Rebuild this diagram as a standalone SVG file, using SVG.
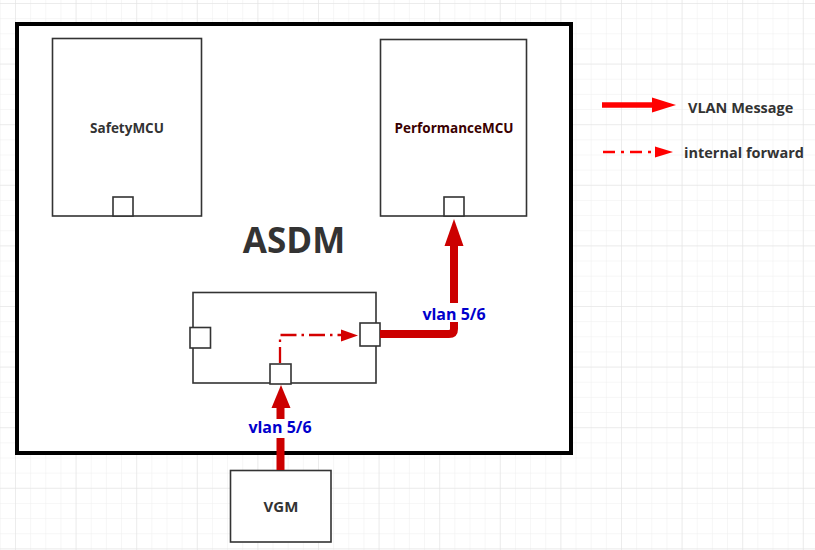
<svg xmlns="http://www.w3.org/2000/svg" width="815" height="550" viewBox="0 0 815 550">
  <defs>
    <pattern id="minor" x="15" y="3" width="15.15" height="15.15" patternUnits="userSpaceOnUse">
      <path d="M0,0 H15.15 M0,0 V15.15" fill="none" stroke="#eeeeee" stroke-width="1"/>
    </pattern>
    <pattern id="major" x="15" y="3" width="60.6" height="60.6" patternUnits="userSpaceOnUse">
      <path d="M0,0 H60.6 M0,0 V60.6" fill="none" stroke="#e2e2e2" stroke-width="1"/>
    </pattern>
    <style>
      .box { fill: #ffffff; stroke: #333333; stroke-width: 1.6; }
      .port { fill: #ffffff; stroke: #333333; stroke-width: 1.6; }
      .lbl { font-family: "Open Sans", "Noto Sans", sans-serif; font-weight: bold; fill: #333333; text-anchor: middle; }
      .vlan { font-family: "Open Sans", "Noto Sans", sans-serif; font-weight: bold; font-size: 16px; fill: #0000cc; text-anchor: middle; }
      .leg { font-family: "Open Sans", "Noto Sans", sans-serif; font-weight: bold; font-size: 14.5px; fill: #333333; }
      .thick { fill: none; stroke: #cc0000; stroke-width: 8; stroke-linejoin: round; }
      .head { fill: #cc0000; }
    </style>
  </defs>

  <rect width="815" height="550" fill="#ffffff"/>
  <rect width="815" height="550" fill="url(#minor)"/>
  <rect width="815" height="550" fill="url(#major)"/>

  <g id="ASDM">
    <rect x="17" y="24" width="554" height="429" fill="#ffffff" stroke="#000000" stroke-width="4"/>
    <text class="lbl" x="294" y="253" font-size="35">ASDM</text>
  </g>

  <g id="SafetyMCU">
    <rect class="box" x="52.5" y="38.5" width="149" height="177.5"/>
    <rect class="port" x="113" y="197" width="20" height="19"/>
    <text class="lbl" x="127" y="133" font-size="13.5">SafetyMCU</text>
  </g>

  <g id="PerformanceMCU">
    <rect class="box" x="380.5" y="39.5" width="146" height="176.5"/>
    <rect class="port" x="444" y="197" width="20" height="19"/>
    <text class="lbl" x="454" y="133" font-size="13.5" style="fill:#3a0000">PerformanceMCU</text>
  </g>

  <g id="Switch">
    <rect class="box" x="193" y="292.5" width="183" height="90.5"/>
    <rect class="port" x="190" y="327.5" width="20.5" height="20.5"/>
    <rect class="port" x="360" y="323" width="20" height="23" stroke-width="2"/>
    <rect class="port" x="270" y="364" width="21" height="20"/>
  </g>

  <g id="VGM">
    <rect class="box" x="230.5" y="470.5" width="100.5" height="71.5"/>
    <text class="lbl" x="281" y="512" font-size="15">VGM</text>
  </g>

  <g id="connectors">
    <line class="thick" x1="280.5" y1="470" x2="280.5" y2="406"/>
    <polygon class="head" points="271.5,408 281,385 290.5,408"/>
    <rect x="245" y="419" width="71" height="19" fill="#ffffff"/>
    <text class="vlan" x="280" y="433">vlan 5/6</text>

    <path class="thick" d="M380,334 H449 Q454,334 454,329 V244"/>
    <polygon class="head" points="444.5,246 454,219 463.5,246"/>
    <rect x="419" y="303" width="70" height="19" fill="#ffffff"/>
    <text class="vlan" x="454" y="320">vlan 5/6</text>

    <path d="M280,363 V335 H343" fill="none" stroke="#d40000" stroke-width="2.3" stroke-dasharray="16 5 2.5 5"/>
    <polygon points="341,329.5 358,335.5 341,341.5" fill="#d40000"/>
  </g>

  <g id="legend">
    <line x1="602" y1="105" x2="654" y2="105" stroke="#ff0000" stroke-width="5.5"/>
    <polygon points="652,97.5 676,105 652,112.5" fill="#ff0000"/>
    <text class="leg" x="688" y="113">VLAN Message</text>

    <line x1="603" y1="152" x2="657" y2="152" stroke="#ff0000" stroke-width="2.5" stroke-dasharray="12 6 3 6"/>
    <polygon points="655,146.5 673,152 655,157.5" fill="#ff0000"/>
    <text class="leg" x="684" y="157.5">internal forward</text>
  </g>
</svg>
